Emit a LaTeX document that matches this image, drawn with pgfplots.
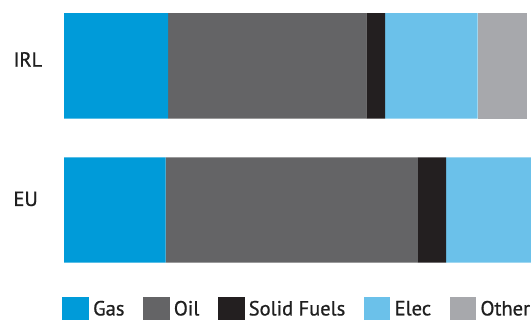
\documentclass[border=0pt]{standalone}
\usepackage{fontspec}
\setmainfont[FakeBold=0.8]{PT Sans}
\usepackage{pgfplots}
\pgfplotsset{compat=1.18}
\definecolor{cGas}{HTML}{009BD9}
\definecolor{cOil}{HTML}{646466}
\definecolor{cSolid}{HTML}{231F20}
\definecolor{cElec}{HTML}{6BC1EA}
\definecolor{cOther}{HTML}{A7A8AC}
\begin{document}
\begin{tikzpicture}
\begin{axis}[
  at={(0,0)}, anchor=south west,
  scale only axis, width=467bp, height=280bp,
  xbar stacked, bar width=105.3bp,
  xmin=0, xmax=100.43, ymin=-0.4861, ymax=1.457,
  axis line style={draw=none}, tick style={draw=none}, major tick length=0pt,
  xtick=\empty, ytick={0,1},
  yticklabels={\raisebox{4bp}{EU},\raisebox{-0.85bp}{IRL}},
  yticklabel style={anchor=base west, inner sep=0pt, xshift=-50.7bp, font=\fontsize{20.5bp}{24bp}\selectfont, text=black!88},
  legend image code/.code={\fill[#1] (0bp,-12bp) rectangle (26.7bp,12bp);},
  legend columns=5,
  legend style={draw=none, fill=none, inner sep=0pt, at={(-0.00428,-0.0596)}, anchor=north west,
    font=\fontsize{20.5bp}{24bp}\selectfont, text=black!88,
    nodes={inner sep=0pt, inner xsep=0pt},
    /tikz/every odd column/.append style={column sep=4.2bp},
    /tikz/every even column/.append style={column sep=18.5bp}},
  legend cell align=left,
]
\addplot[fill=cGas, draw=none] coordinates {(21.85,0) (22.4,1)};
\addlegendentry{Gas}
\addplot[fill=cOil, draw=none] coordinates {(54.25,0) (42.6,1)};
\addlegendentry{Oil}
\addplot[fill=cSolid, draw=none] coordinates {(6.05,0) (4.05,1)};
\addlegendentry{Solid Fuels}
\addplot[fill=cElec, draw=none] coordinates {(18.3,0) (19.9,1)};
\addlegendentry{Elec}
\addplot[fill=cOther, draw=none] coordinates {(0,0) (10.7,1)};
\addlegendentry{Other}
\end{axis}
\pgfresetboundingbox
\useasboundingbox (-64bp,-40bp) rectangle (467bp,280bp);
\end{tikzpicture}
\end{document}
